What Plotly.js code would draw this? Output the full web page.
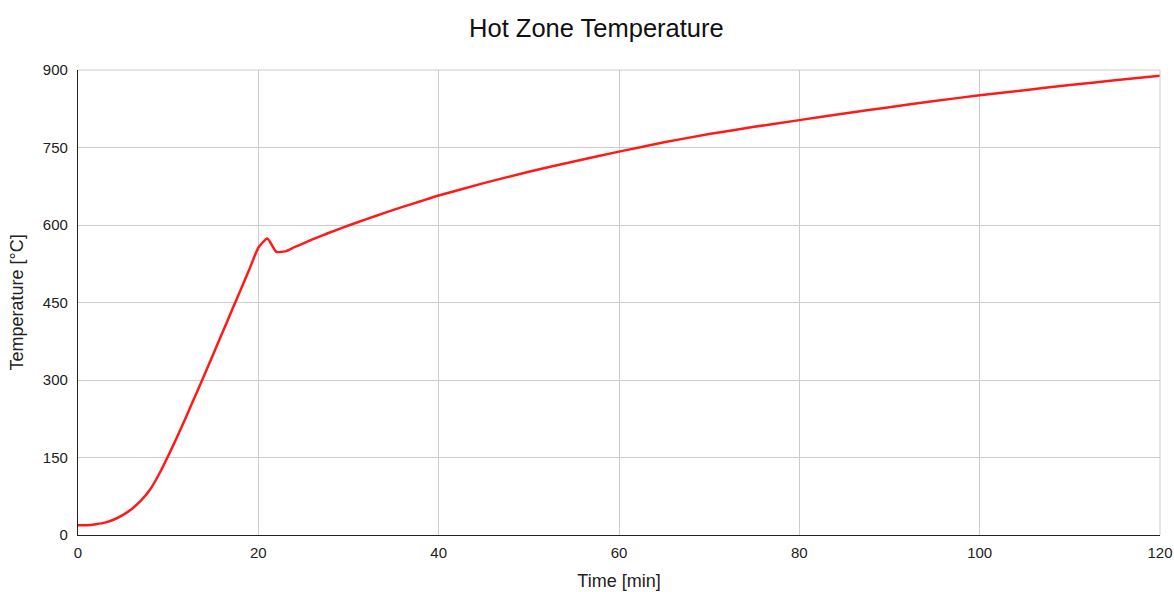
<!DOCTYPE html>
<html>
<head>
<meta charset="utf-8">
<script src="https://cdn.plot.ly/plotly-3.0.1.min.js"></script>
<style>html,body{margin:0;padding:0;background:#fff;}#chart{width:1174px;height:592px;}</style>
</head>
<body>
<div id="chart"></div>
<script>
// Time [min]
const timeMin = [0, 1, 2, 3, 4, 5, 6, 7, 8, 9, 10, 11, 12, 13, 14, 15, 16, 17, 18, 19, 20, 21, 22, 23, 24, 25, 26, 27, 28, 29, 30, 32, 34, 36, 38, 40, 45, 50, 55, 60, 65, 70, 75, 80, 85, 90, 95, 100, 105, 110, 115, 120];
// Temperature [°C]
const tempC = [19, 19, 21, 24, 30, 39, 51, 67, 88, 118, 153, 190, 229, 269, 309, 350, 391, 432, 473, 514, 556, 574, 548, 549, 557, 564.5, 572, 579, 586, 592.5, 599, 611.5, 623.5, 635, 646, 657, 681, 703, 723, 742, 760, 776, 790, 803, 816, 828, 840, 851, 861, 871, 880, 889];
const xTicks = [0, 20, 40, 60, 80, 100, 120];
const yTicks = [0, 150, 300, 450, 600, 750, 900];

const font = 'Arial, "Liberation Sans", sans-serif';

Plotly.newPlot('chart', [{
  x: timeMin,
  y: tempC,
  type: 'scatter',
  mode: 'lines',
  line: {color: '#ff1a1a', width: 2.5, shape: 'spline', smoothing: 0.5},
  hoverinfo: 'x+y'
}], {
  width: 1174,
  height: 592,
  paper_bgcolor: '#ffffff',
  plot_bgcolor: '#ffffff',
  margin: {l: 78, r: 14, t: 70, b: 57},
  showlegend: false,
  title: {text: 'Hot Zone Temperature', x: 0.508, xref: 'container', y: 0.952, yref: 'container', yanchor: 'middle',
          font: {family: font, size: 25.5, color: '#111'}},
  xaxis: {
    range: [0, 120],
    tickvals: xTicks,
    ticktext: xTicks.map(String),
    showgrid: true, gridcolor: '#cccccc', gridwidth: 1,
    zeroline: false,
    showline: true, linecolor: '#222', linewidth: 1.2,
    ticks: '', ticklabelstandoff: 4,
    tickfont: {family: font, size: 15, color: '#222'},
    title: {text: 'Time [min]', font: {family: font, size: 18, color: '#222'}, standoff: 14}
  },
  yaxis: {
    range: [0, 900],
    tickvals: yTicks,
    ticktext: yTicks.map(String),
    showgrid: true, gridcolor: '#cccccc', gridwidth: 1,
    zeroline: false,
    showline: true, linecolor: '#222', linewidth: 1.2,
    ticks: '', ticklabelstandoff: 6,
    tickfont: {family: font, size: 15, color: '#222'},
    title: {text: 'Temperature [°C]', font: {family: font, size: 18, color: '#222'}, standoff: 14}
  },
  shapes: [
    {type: 'line', xref: 'paper', yref: 'paper', x0: 1, x1: 1, y0: 0, y1: 1, line: {color: '#cccccc', width: 1}},
    {type: 'line', xref: 'paper', yref: 'paper', x0: 0, x1: 1, y0: 1, y1: 1, line: {color: '#cccccc', width: 1}}
  ]
}, {displayModeBar: false});
</script>
</body>
</html>
